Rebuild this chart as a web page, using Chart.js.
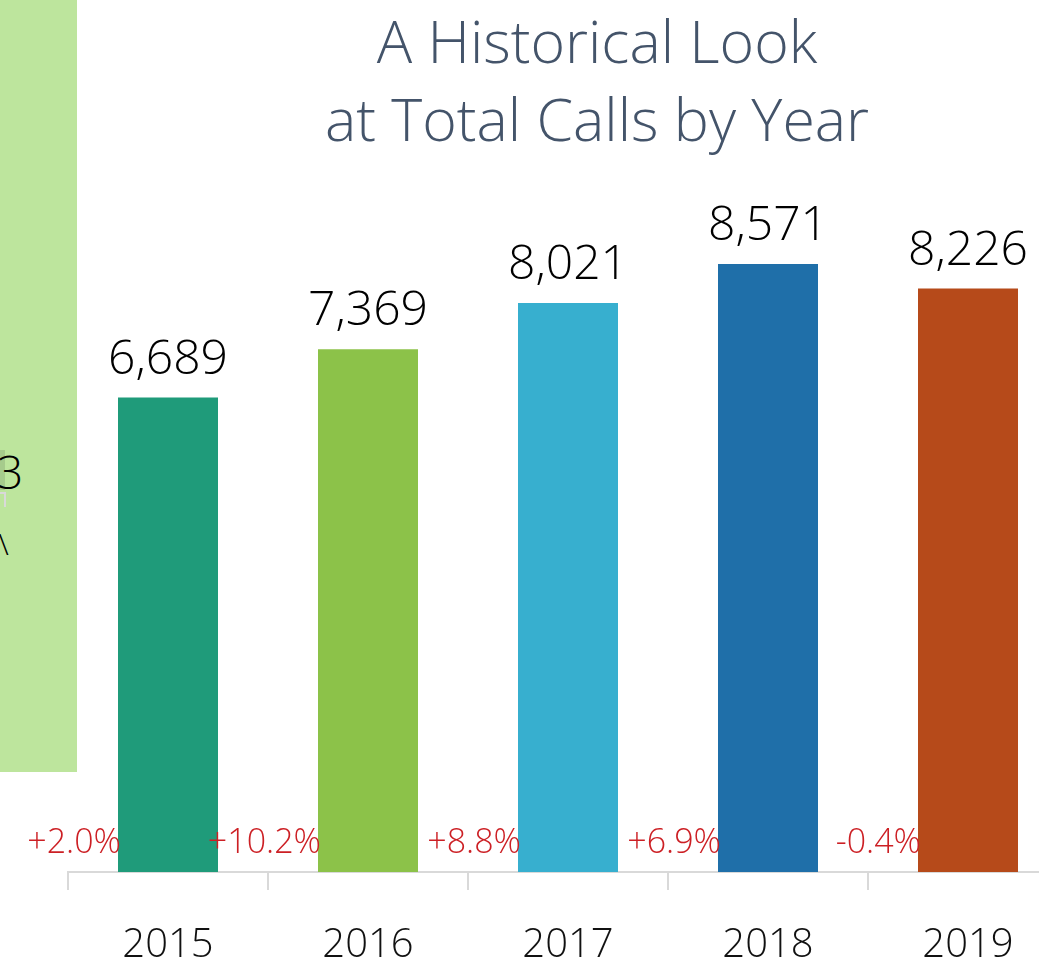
<!DOCTYPE html>
<html>
<head>
<meta charset="utf-8">
<script src="https://cdn.jsdelivr.net/npm/chart.js@4"></script>
<style>
  html, body { margin: 0; padding: 0; overflow: hidden; background: #fff; width: 1039px; height: 966px; }
  #wrap { position: absolute; left: 0; top: 0; width: 1194px; height: 1000px; }
  #panel { position: absolute; left: 0; top: 0; width: 77px; height: 772px; background: #BDE59D; overflow: hidden; z-index: 1; }
  #frag3 { position: absolute; left: -3px; top: 443px; font: 300 46px "Open Sans", sans-serif; color: #000; line-height: 56px; }
  #fragbar { position: absolute; left: 0; top: 450px; width: 5px; height: 40px; background: #A6CB8C; }
  #fragtick { position: absolute; left: -2px; top: 492px; width: 6px; height: 13px; border-top: 2px solid #d9d9d9; border-right: 2px solid #d9d9d9; }
  #fragA { position: absolute; left: -9px; top: 526px; font: 300 30px "Open Sans", sans-serif; color: #000; line-height: 36px; }
</style>
</head>
<body>
<div id="panel">
  <div id="fragbar"></div>
  <div id="frag3">3</div>
  <div id="fragtick"></div>
  <div id="fragA">Λ</div>
</div>
<div id="wrap"><canvas id="c"></canvas></div>
<script>
const categories = ["2015", "2016", "2017", "2018", "2019"];
const totalCalls = [6689, 7369, 8021, 8571, 8226];
const changeLabels = ["+2.0%", "+10.2%", "+8.8%", "+6.9%", "-0.4%"];
const barColors = ["#1F9B7A", "#8CC249", "#37AFCF", "#1F6FA9", "#B64A1A"];
const titleLines = ["A Historical Look", "at Total Calls by Year"];

const FONT = '"Open Sans", "Noto Sans", sans-serif';

const labelPlugin = {
  id: 'barLabels',
  afterDatasetsDraw(chart) {
    const ctx = chart.ctx;
    const meta = chart.getDatasetMeta(0);
    const bottom = chart.chartArea.bottom;
    ctx.save();
    meta.data.forEach((bar, i) => {
      ctx.font = '300 48px ' + FONT;
      ctx.fillStyle = '#000';
      ctx.textAlign = 'center';
      ctx.textBaseline = 'alphabetic';
      ctx.fillText(totalCalls[i].toLocaleString('en-US'), bar.x, bar.y - 24);
      ctx.font = '300 34px ' + FONT;
      ctx.fillStyle = '#CC1F24';
      ctx.textAlign = 'right';
      ctx.fillText(changeLabels[i], bar.x - bar.width / 2 + 3, bottom - 19);
    });
    ctx.restore();
  }
};

new Chart(document.getElementById('c'), {
  type: 'bar',
  data: {
    labels: categories,
    datasets: [{
      data: totalCalls,
      backgroundColor: barColors,
      borderWidth: 0,
      categoryPercentage: 0.5,
      barPercentage: 1.0
    }]
  },
  options: {
    responsive: true,
    maintainAspectRatio: false,
    animation: false,
    layout: { padding: 0 },
    plugins: {
      legend: { display: false },
      tooltip: { enabled: false },
      title: {
        display: true,
        text: titleLines,
        color: '#44546A',
        font: { family: FONT, size: 59, weight: '300', lineHeight: 1.32 },
        padding: { top: 7, bottom: 0 }
      }
    },
    scales: {
      x: {
        grid: { display: true, drawOnChartArea: false, color: '#d9d9d9', lineWidth: 2, tickLength: 18, offset: true },
        border: { display: true, color: '#d9d9d9', width: 2 },
        ticks: { color: '#111', font: { family: FONT, size: 40, weight: '300' }, padding: 32 },
        afterFit(scale) { scale.height = 128; }
      },
      y: {
        display: true,
        position: 'left',
        min: 0,
        max: 10000,
        grid: { display: false },
        border: { display: false },
        ticks: { display: false },
        afterFit(scale) { scale.width = 68; }
      },
      y2: {
        display: true,
        position: 'right',
        min: 0,
        max: 10000,
        grid: { display: false },
        border: { display: false },
        ticks: { display: false },
        afterFit(scale) { scale.width = 126; }
      }
    }
  },
  plugins: [labelPlugin]
});
</script>
</body>
</html>
